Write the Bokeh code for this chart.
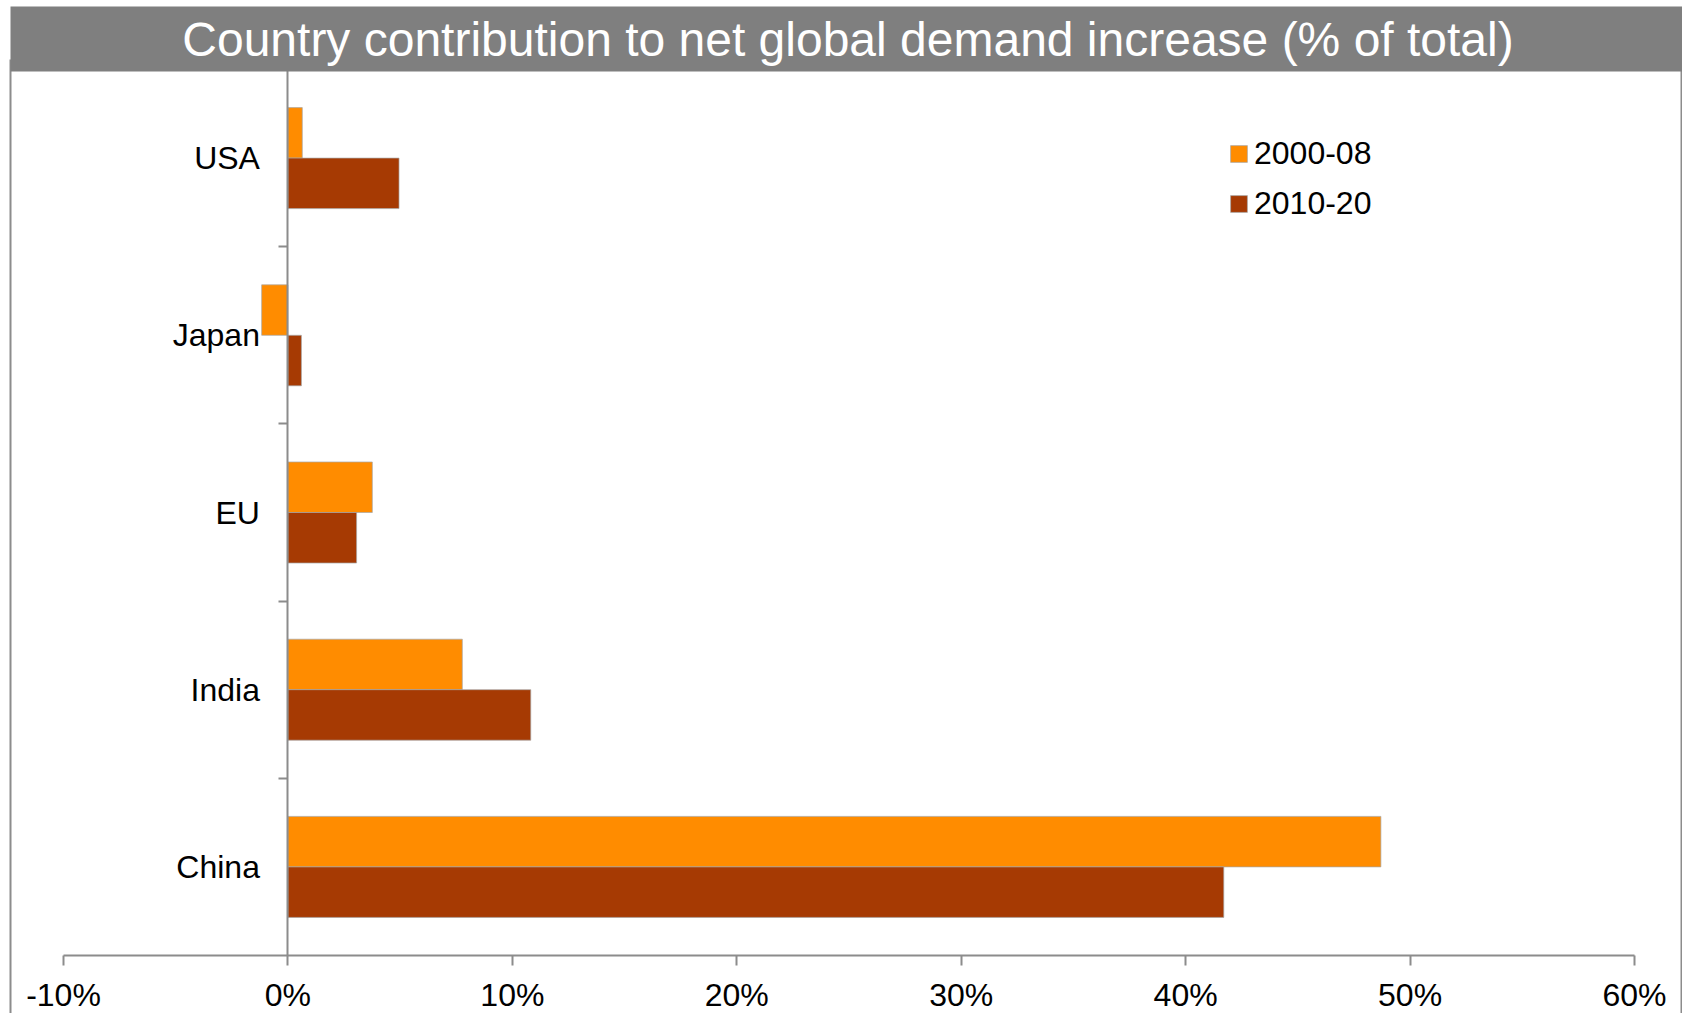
from bokeh.plotting import figure
from bokeh.models import (Range1d, FixedTicker, PrintfTickFormatter, Legend,
                          LegendItem, ColumnDataSource)
from bokeh.embed import file_html
from bokeh.resources import INLINE
from bokeh.core.properties import value

# ---------------- data ----------------
title_text = "Country contribution to net global demand increase (% of total)"
countries = ["USA", "Japan", "EU", "India", "China"]
series_names = ["2000-08", "2010-20"]
share_2000_08 = [0.64, -1.17, 3.76, 7.77, 48.7]
share_2010_20 = [4.95, 0.6, 3.06, 10.82, 41.7]
x_ticks = [-10, 0, 10, 20, 30, 40, 50, 60]

# ---------------- style / layout ----------------
FONT = "Liberation Sans"
ORANGE = "#FF8C00"
BROWN = "#A63A03"
GRAY = "#8C8C8C"
TITLE_BG = "#7F7F7F"
BAR_EDGE = "#A6A6A6"

W, H = 1682, 1013
X0_PX, X1_PX = 63, 1634      # canvas x of first / last x tick
Y0_PX, Y1_PX = 955, 69       # canvas y of bottom / top of the category bands

n = len(countries)
sx = (X1_PX - X0_PX) / (x_ticks[-1] - x_ticks[0])
sy = (Y0_PX - Y1_PX) / n
x_start = x_ticks[0] - X0_PX / sx
x_end = x_ticks[-1] + (W - X1_PX) / sx
y_start = -(H - Y0_PX) / sy
y_end = n + Y1_PX / sy


def px_x(px):
    return x_start + px / sx


def px_y(py):
    return y_end - py / sy


centers = [n - 1 - i + 0.5 for i in range(n)]
bar_h = 0.285
src = ColumnDataSource(dict(
    country=countries,
    y_a=[c + bar_h / 2 for c in centers],
    y_b=[c - bar_h / 2 for c in centers],
    a=share_2000_08,
    b=share_2010_20,
))

p = figure(width=W, height=H, x_range=Range1d(x_start, x_end),
           y_range=Range1d(y_start, y_end), toolbar_location=None,
           output_backend="svg", min_border=0, outline_line_color=None,
           background_fill_color="white", border_fill_color="white")
p.grid.visible = False

# chart-area border (left / right edges)
p.segment(x0=[px_x(10), px_x(1681)], y0=[px_y(59), px_y(59)],
          x1=[px_x(10), px_x(1681)], y1=[px_y(H), px_y(H)],
          line_color=GRAY, line_width=2)

ra = p.hbar(y="y_a", left=0, right="a", height=bar_h, source=src,
            fill_color=ORANGE, line_color=BAR_EDGE, line_alpha=0.7, line_width=1)
rb = p.hbar(y="y_b", left=0, right="b", height=bar_h, source=src,
            fill_color=BROWN, line_color=BAR_EDGE, line_alpha=0.7, line_width=1)

# title bar
p.quad(left=[px_x(10)], right=[px_x(W)], bottom=[px_y(71)], top=[px_y(6)],
       fill_color=TITLE_BG, line_color=None, level="overlay")
p.text(x=[px_x(847.5)], y=[px_y(38.5)], text=[title_text], text_color="white",
       text_font=value(FONT), text_font_size="48px",
       text_align="center", text_baseline="middle", level="overlay")

yax = p.yaxis[0]
yax.ticker = FixedTicker(ticks=centers, minor_ticks=[1, 2, 3, 4])
yax.major_label_overrides = {c: name for c, name in zip(centers, countries)}
yax.fixed_location = 0
yax.bounds = (0, n)
yax.major_tick_out = 0
yax.major_tick_in = 0
yax.minor_tick_out = 9
yax.minor_tick_in = 0
yax.minor_tick_line_color = GRAY
yax.minor_tick_line_width = 2
yax.axis_line_color = GRAY
yax.axis_line_width = 2
yax.major_label_text_font = FONT
yax.major_label_text_font_size = "32px"
yax.major_label_text_color = "black"
yax.major_label_standoff = 19

xax = p.xaxis[0]
xax.ticker = FixedTicker(ticks=x_ticks, minor_ticks=[])
xax.formatter = PrintfTickFormatter(format="%d%%")
xax.fixed_location = 0
xax.bounds = (x_ticks[0], x_ticks[-1])
xax.major_tick_out = 10
xax.major_tick_in = 0
xax.minor_tick_out = 0
xax.minor_tick_in = 0
xax.major_tick_line_color = GRAY
xax.major_tick_line_width = 2
xax.axis_line_color = GRAY
xax.axis_line_width = 2
xax.major_label_text_font = FONT
xax.major_label_text_font_size = "32px"
xax.major_label_text_color = "black"
xax.major_label_standoff = 11

legend = Legend(items=[LegendItem(label=series_names[0], renderers=[ra]),
                       LegendItem(label=series_names[1], renderers=[rb])],
                location=(1228, 791), orientation="vertical",
                border_line_color=None, background_fill_alpha=0,
                padding=0, margin=0, spacing=13, glyph_width=21, glyph_height=21,
                label_standoff=5, label_text_font=FONT, label_text_font_size="32px",
                label_text_color="black", label_height=35)
p.add_layout(legend, "center")

open("out.html", "w").write(file_html(p, INLINE))
